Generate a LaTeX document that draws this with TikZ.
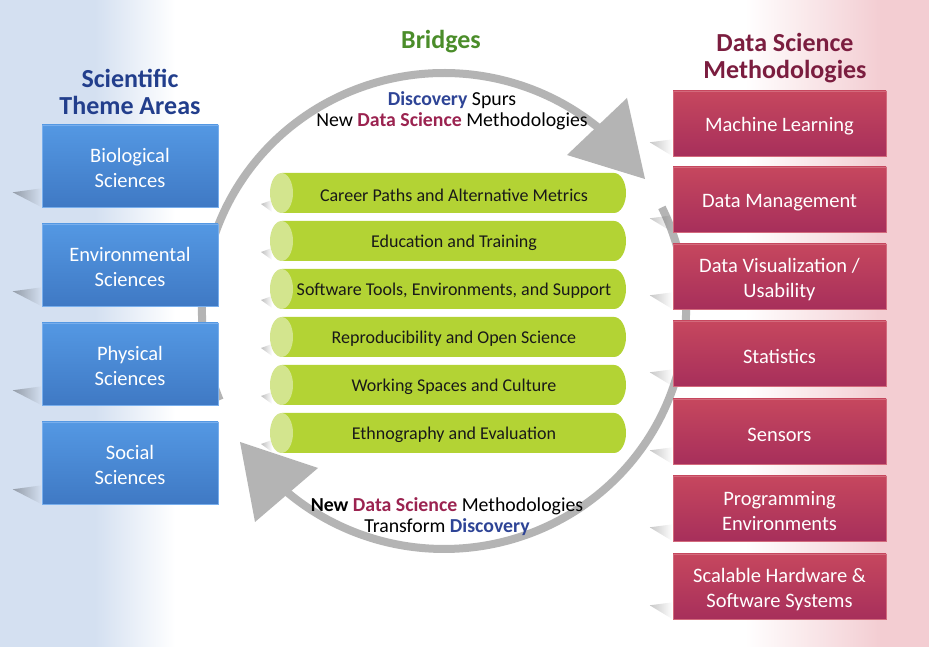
\documentclass[tikz,border=0pt]{standalone}
\usepackage{fontspec}
\setmainfont{Carlito}
\usetikzlibrary{positioning,fadings,calc}

\definecolor{leftbg}{HTML}{D4E0F1}
\definecolor{rightbg}{HTML}{F3CDD2}
\definecolor{themetop}{HTML}{5498E3}
\definecolor{themebot}{HTML}{3F79C4}
\definecolor{themeedge}{HTML}{78AEEC}
\definecolor{methtop}{HTML}{C6475E}
\definecolor{methbot}{HTML}{A72F5B}
\definecolor{methedge}{HTML}{D36A7C}
\definecolor{cylgreen}{HTML}{B3D334}
\definecolor{cylcapgreen}{HTML}{D3E58E}
\definecolor{ringgray}{HTML}{B4B4B4}
\definecolor{titleblue}{HTML}{223E8C}
\definecolor{titlegreen}{HTML}{4B8D2A}
\definecolor{titlered}{HTML}{7B1D3F}
\definecolor{discblue}{HTML}{2E4496}
\definecolor{dsred}{HTML}{9B2350}

\begin{document}
\begin{tikzpicture}[x=1pt, y=1pt,
  boxlabel/.style={text=white, align=center, inner sep=0pt, font=\fontsize{20.5}{25}\selectfont},
  themebox/.style={rectangle, draw=themeedge, line width=0.6pt, top color=themetop, bottom color=themebot,
    minimum width=176pt, minimum height=82pt, inner sep=0pt,
    label={[boxlabel, yshift=-2pt]center:{#1}}},
  methbox/.style={rectangle, draw=methedge, line width=0.6pt, top color=methtop, bottom color=methbot,
    minimum width=213pt, minimum height=65pt, inner sep=0pt,
    label={[boxlabel, yshift=-3pt]center:{#1}}},
  bridgetext/.style={inner sep=0pt, text=black!90, font=\fontsize{18}{21}\selectfont},
  cylbody/.style={fill=cylgreen},
  cylcap/.style={fill=cylcapgreen},
  heading/.style={align=center, font=\bfseries\fontsize{26}{27}\selectfont},
  flowtext/.style={align=center, inner sep=0pt, font=\fontsize{19.8}{21}\selectfont},
  boxshadow/.style={fill=black, fill opacity=#1, path fading=east},
  boxshadow/.default=0.3,
  ringline/.style={draw=ringgray, line width=8pt},
  ringhead/.style={fill=ringgray}
]
\useasboundingbox (0,0) rectangle (929,647);

% background
\fill[white] (0,0) rectangle (929,647);
\fill[leftbg] (0,0) rectangle (96,647);
\shade[left color=leftbg, right color=white] (95,0) rectangle (175,647);
\shade[left color=white, right color=rightbg] (745,0) rectangle (881,647);
\fill[rightbg] (880,0) rectangle (929,647);

% ring
\coordinate (ctr) at (444,336);
\coordinate (startA) at ($(ctr)+(202:242 and 238)$);
\coordinate (startB) at ($(ctr)+(25.8:242 and 238)$);
\draw[ringline] (startA) arc[start angle=202, end angle=50.3, x radius=242, y radius=238];
\draw[ringline] (startB) arc[start angle=25.8, end angle=-130.6, x radius=242, y radius=238];
\coordinate (tipA) at (645,468);
\coordinate (tipB) at (240,205);
\fill[ringhead] (567,492) -- (627,549) -- (tipA) -- cycle;
\fill[ringhead] (318,179) -- (255,125) -- (tipB) -- cycle;

% headings
\node[heading, text=titleblue] (themehead) at (130,555) {Scientific\\Theme Areas};
\node[heading, text=titlegreen] (bridgehead) at (441,605) {Bridges};
\node[heading, text=titlered] (methhead) at (785,589) {Data Science\\Methodologies};

% scientific theme areas
\node[themebox={Biological\\Sciences}] (bio) at (130,481) {};
\node[themebox={Environmental\\Sciences}] (env) at (130,382) {};
\node[themebox={Physical\\Sciences}] (phy) at (130,283) {};
\node[themebox={Social\\Sciences}] (soc) at (130,184) {};
\foreach \n in {bio,env,phy,soc}
  \fill[boxshadow] (\n.south west) -- ++(0,19) -- ++(-29,-4) -- cycle;

% data science methodologies
\node[methbox={Machine Learning}] (ml) at (779.5,523.5) {};
\node[methbox={Data Management}] (dm) at (779.5,447.5) {};
\node[methbox={Data Visualization /\\Usability}] (dv) at (779.5,370.5) {};
\node[methbox={Statistics}] (st) at (779.5,293.5) {};
\node[methbox={Sensors}] (se) at (779.5,215.5) {};
\node[methbox={Programming\\Environments}] (pe) at (779.5,138.5) {};
\node[methbox={Scalable Hardware \&\\Software Systems}] (hw) at (779.5,60.5) {};
\foreach \n in {ml,dm,dv,st,se,pe,hw}
  \fill[boxshadow=0.22] (\n.south west) -- ++(0,17) -- ++(-23,-3) -- cycle;

% bridges
\foreach \y/\txt [count=\i] in {454/Career Paths and Alternative Metrics,
    406/Education and Training,
    358/{Software Tools, Environments, and Support},
    310/Reproducibility and Open Science,
    262/Working Spaces and Culture,
    214/Ethnography and Evaluation} {
  \fill[boxshadow=0.25] (272,\y-19) -- ++(0,12) -- ++(-11,-4) -- cycle;
  \fill[cylbody] (282,\y+20) -- (614,\y+20) arc[start angle=90, end angle=-90, x radius=12, y radius=20]
    -- (282,\y-20) -- cycle;
  \fill[cylcap] (281.5,\y) ellipse[x radius=11.5, y radius=20];
  \node[bridgetext] (br\i) at (454,\y-2) {\txt};
}

% flow labels
\node[flowtext] (spurs) at (452,536) {\textcolor{discblue}{\bfseries Discovery} Spurs\\
  New \textcolor{dsred}{\bfseries Data Science} Methodologies};
\node[flowtext] (transform) at (447,130) {{\bfseries New} \textcolor{dsred}{\bfseries Data Science} Methodologies\\
  Transform \textcolor{discblue}{\bfseries Discovery}};

\end{tikzpicture}
\end{document}
